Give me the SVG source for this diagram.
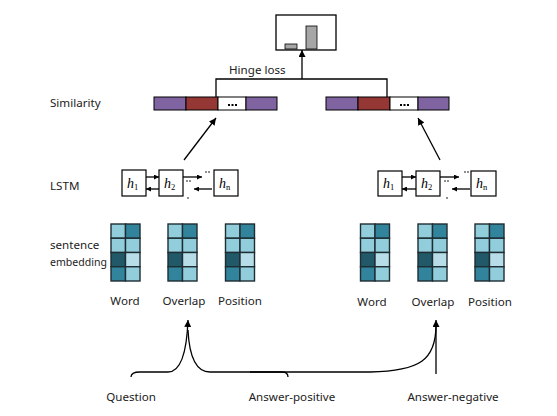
<svg xmlns="http://www.w3.org/2000/svg" width="557" height="416" viewBox="0 0 557 416">
<defs>
<style>
text{font-family:"Noto Sans","Open Sans",sans-serif;font-size:11.6px;fill:#222}
.m{text-anchor:middle}
.ln{fill:none;stroke:#000;stroke-width:1.3}
.bx{fill:#fff;stroke:#000;stroke-width:1.2}
.h{font-family:"Liberation Serif",serif;font-style:italic;font-size:14px;fill:#000}
.sub{font-size:8.5px;font-style:normal}
.c{stroke:#1e2d33;stroke-width:1.4}
.dt{fill:#000}
</style>
<marker id="ar" viewBox="0 0 10 10" refX="10" refY="5" markerWidth="7" markerHeight="7" markerUnits="userSpaceOnUse" orient="auto">
<path d="M0,0 L10,5 L0,10 z" fill="#000"/>
</marker>
<marker id="as" viewBox="0 0 10 10" refX="10" refY="5" markerWidth="5" markerHeight="5" markerUnits="userSpaceOnUse" orient="auto">
<path d="M0,0 L10,5 L0,10 z" fill="#000"/>
</marker>
<g id="grid">
<rect class="c" x="0" y="0" width="14.5" height="14.25" fill="#92cddc"/>
<rect class="c" x="14.5" y="0" width="14.5" height="14.25" fill="#31849b"/>
<rect class="c" x="0" y="14.25" width="14.5" height="14.25" fill="#92cddc"/>
<rect class="c" x="14.5" y="14.25" width="14.5" height="14.25" fill="#92cddc"/>
<rect class="c" x="0" y="28.5" width="14.5" height="14.25" fill="#215968"/>
<rect class="c" x="14.5" y="28.5" width="14.5" height="14.25" fill="#b7dee8"/>
<rect class="c" x="0" y="42.75" width="14.5" height="14.25" fill="#31849b"/>
<rect class="c" x="14.5" y="42.75" width="14.5" height="14.25" fill="#92cddc"/>
</g>
<g id="simbar">
<rect x="0" y="0" width="32" height="13" fill="#8064a2" stroke="#000" stroke-width="1"/>
<rect x="32" y="0" width="32" height="13" fill="#953735" stroke="#000" stroke-width="1"/>
<rect x="64" y="0" width="28" height="13" fill="#fff" stroke="#000" stroke-width="1"/>
<rect x="92" y="0" width="31" height="13" fill="#8064a2" stroke="#000" stroke-width="1"/>
<rect class="dt" x="74" y="7" width="2" height="2"/>
<rect class="dt" x="77.5" y="7" width="2" height="2"/>
<rect class="dt" x="81" y="7" width="2" height="2"/>
</g>
</defs>

<g id="labels">
<text x="50" y="107">Similarity</text>
<text x="50" y="190">LSTM</text>
<text x="50" y="249">sentence</text>
<text x="50" y="266" textLength="57" lengthAdjust="spacingAndGlyphs">embedding</text>
</g>

<g id="output">
<rect x="276" y="15" width="60" height="35" fill="#fff" stroke="#000" stroke-width="1.3"/>
<rect x="285" y="44" width="12" height="5" fill="#a6a6a6" stroke="#000" stroke-width="0.8"/>
<rect x="306" y="26" width="11" height="23" fill="#a6a6a6" stroke="#000" stroke-width="0.8"/>
</g>

<g id="hinge">
<text x="229" y="74">Hinge loss</text>
</g>

<g id="sim-left"><use href="#simbar" x="154" y="97"/></g>
<g id="sim-right"><use href="#simbar" x="326" y="97"/></g>

<g id="lstm-left">
<rect class="bx" x="122" y="170" width="24" height="26"/>
<text class="h" x="127" y="188">h<tspan class="sub" dy="2">1</tspan></text>
<rect class="bx" x="159" y="170" width="24" height="26"/>
<text class="h" x="164" y="188">h<tspan class="sub" dy="2">2</tspan></text>
<rect class="bx" x="214" y="170" width="24" height="26"/>
<text class="h" x="219" y="188">h<tspan class="sub" dy="2">n</tspan></text>
<circle class="dt" cx="206" cy="172" r="0.8"/><circle class="dt" cx="209" cy="172" r="0.8"/>
<circle class="dt" cx="187" cy="181" r="0.8"/><circle class="dt" cx="190" cy="181" r="0.8"/>
<circle class="dt" cx="188" cy="198" r="0.8"/>
</g>

<g id="lstm-right">
<rect class="bx" x="378" y="171" width="24" height="25"/>
<text class="h" x="383" y="188">h<tspan class="sub" dy="2">1</tspan></text>
<rect class="bx" x="416" y="171" width="24" height="25"/>
<text class="h" x="421" y="188">h<tspan class="sub" dy="2">2</tspan></text>
<rect class="bx" x="471" y="171" width="25" height="25"/>
<text class="h" x="476" y="188">h<tspan class="sub" dy="2">n</tspan></text>
<circle class="dt" cx="465" cy="172" r="0.8"/><circle class="dt" cx="468" cy="172" r="0.8"/>
<circle class="dt" cx="445" cy="181" r="0.8"/><circle class="dt" cx="448" cy="181" r="0.8"/>
<circle class="dt" cx="447" cy="198" r="0.8"/>
</g>

<g id="emb-left">
<use href="#grid" x="111" y="224"/>
<use href="#grid" x="168" y="224"/>
<use href="#grid" x="225.5" y="224"/>
<text class="m" x="125" y="305">Word</text>
<text class="m" x="184" y="305">Overlap</text>
<text class="m" x="240" y="305">Position</text>
</g>

<g id="emb-right">
<use href="#grid" x="360.5" y="224"/>
<use href="#grid" x="418" y="224"/>
<use href="#grid" x="475" y="224"/>
<text class="m" x="372" y="306">Word</text>
<text class="m" x="433" y="306">Overlap</text>
<text class="m" x="490" y="306">Position</text>
</g>

<g id="inputs">
<text class="m" x="131" y="401">Question</text>
<text class="m" x="292" y="401">Answer-positive</text>
<text class="m" x="453" y="401">Answer-negative</text>
</g>

<g id="connectors">
<path class="ln" d="M302,79 L302,50" marker-end="url(#ar)"/>
<path class="ln" d="M216,97 L216,79 L387,79 L387,97"/>
<path class="ln" d="M184,160 L216,118" marker-end="url(#ar)"/>
<path class="ln" d="M440,160 L418,118" marker-end="url(#ar)"/>
<path class="ln" d="M146,177 L159,177" marker-end="url(#as)"/>
<path class="ln" d="M159,189 L146,189" marker-end="url(#as)"/>
<path class="ln" d="M183,177 L202,177" marker-end="url(#as)"/>
<path class="ln" d="M212,189 L194,189" marker-end="url(#as)"/>
<path class="ln" d="M402,177 L416,177" marker-end="url(#as)"/>
<path class="ln" d="M416,189 L402,189" marker-end="url(#as)"/>
<path class="ln" d="M440,177 L459,177" marker-end="url(#as)"/>
<path class="ln" d="M470,189 L452,189" marker-end="url(#as)"/>
<path class="ln" d="M131,377 Q131,372 140,372 L168,372 Q186,372 188,320" marker-end="url(#ar)"/>
<path class="ln" d="M188,330 Q190,372 210,372 L282,372 Q288,372 288,377"/>
<path class="ln" d="M250,372 L370,372 C420,371 436,360 436,325"/>
<path class="ln" d="M436,374 L436,320" marker-end="url(#ar)"/>
</g>
</svg>
